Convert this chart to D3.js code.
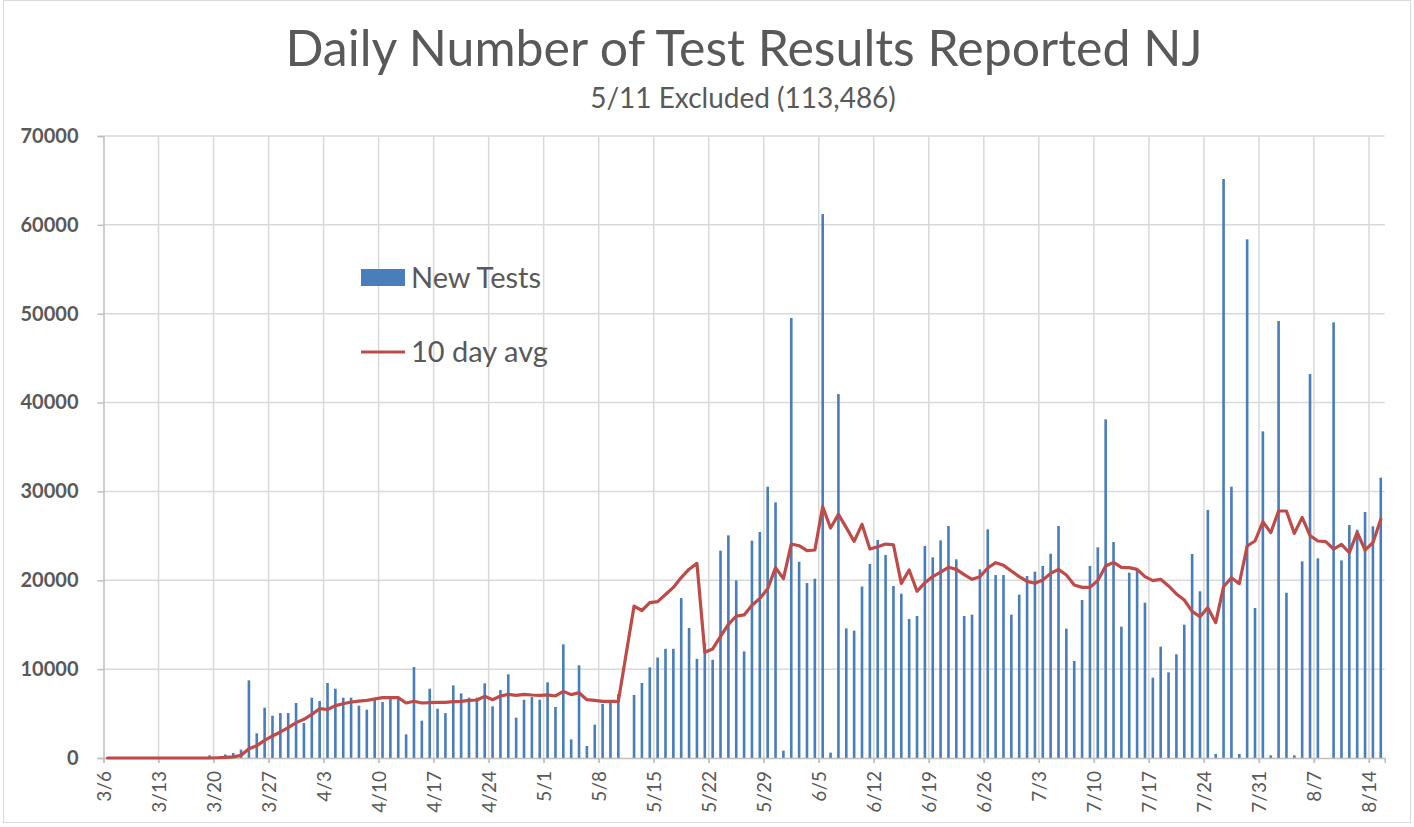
<!DOCTYPE html>
<html>
<head>
<meta charset="utf-8">
<script src="https://cdn.jsdelivr.net/npm/d3@7"></script>
<style>
  html, body { margin: 0; padding: 0; background: #fff; }
  svg { display: block; font-family: Lato, "Open Sans", sans-serif; }
</style>
</head>
<body>
<svg id="chart" width="1414" height="827"></svg>
<script>
// daily values from 3/6 to 8/15 (index 0 = 3/6); null = 5/11 excluded
const newTests = [
  0, 0, 0, 0, 0, 0, 0, 0, 0, 0, 0, 0, 0, 300, 0, 400, 560, 940, 8740, 2780,
  5660, 4760, 5060, 5060, 6190, 3940, 6790, 6410, 8440, 7800, 6790, 6790, 5890, 5440, 6790, 6300,
  6640, 6640, 2660, 10240, 4200, 7800, 5550, 5060, 8180, 7280, 6790, 6790, 8400, 5810, 7650, 9420,
  4540, 6560, 6860, 6560, 8520, 5740, 12790, 2100, 10430, 1350, 3750, 6080, 6380, 7200, null, 7090,
  8440, 10200, 11310, 12290, 12290, 18000, 14630, 11160, 12900, 11050, 23330, 25060, 19990, 12000, 24460, 25430,
  30530, 28770, 830, 49520, 22090, 19690, 20180, 61220, 600, 40960, 14590, 14330, 19300, 21830, 24530, 22840,
  19360, 18490, 15640, 15980, 23860, 22580, 24490, 26110, 22360, 15980, 16130, 21230, 25730, 20590, 20590, 16130,
  18380, 20480, 20970, 21610, 22990, 26110, 14550, 10920, 17780, 21610, 23710, 38110, 24310, 14780, 20860, 21160,
  17480, 9040, 12530, 9640, 11670, 15000, 22960, 18760, 27910, 450, 65160, 30530, 450, 58370, 16880, 36760,
  300, 49180, 18600, 300, 22130, 43210, 22470, 0, 49030, 22240, 26220, 25690, 27680, 26070, 31550
];

const tenDayAvg = [
  0, 0, 0, 0, 0, 0, 0, 0, 0, 0, 0, 0, 0, 0, 30, 70, 130, 300, 1050, 1390,
  1990, 2480, 2930, 3410, 3980, 4350, 4910, 5550, 5460, 5890, 6110, 6300, 6410, 6490, 6640, 6790,
  6790, 6790, 6190, 6380, 6190, 6230, 6260, 6260, 6340, 6380, 6490, 6530, 6940, 6560, 6980, 7160,
  7050, 7160, 7090, 7050, 7110, 6980, 7500, 7130, 7350, 6560, 6490, 6380, 6380, 6380, null, 17100,
  16600, 17480, 17600, 18400, 19200, 20300, 21250, 21900, 11900, 12270, 13680, 15040, 15970, 16100, 17200, 17950,
  19050, 21420, 20180, 24080, 23890, 23330, 23410, 28280, 25880, 27420, 25920, 24380, 26300, 23520, 23780, 24080,
  24000, 19650, 21160, 18760, 19730, 20410, 20930, 21460, 21230, 20630, 20110, 20410, 21380, 21980, 21680, 21040,
  20410, 19880, 19660, 20030, 20780, 21230, 20590, 19470, 19200, 19200, 19980, 21610, 22020, 21460, 21420, 21230,
  20410, 19960, 20110, 19360, 18460, 17780, 16500, 15900, 16920, 15230, 19280, 20290, 19620, 23860, 24420, 26590,
  25360, 27800, 27800, 25280, 27080, 25020, 24420, 24350, 23520, 24040, 23110, 25390, 23410, 24230, 26860
];

const tickLabels = ["3/6", "3/13", "3/20", "3/27", "4/3", "4/10", "4/17", "4/24", "5/1", "5/8",
  "5/15", "5/22", "5/29", "6/5", "6/12", "6/19", "6/26", "7/3", "7/10", "7/17", "7/24", "7/31", "8/7", "8/14"];
const yTicks = [0, 10000, 20000, 30000, 40000, 50000, 60000, 70000];
const seriesNames = ["New Tests", "10 day avg"];

(function () {
  const W = 1414, H = 827;
  const plotL = 103.5, plotR = 1384.7, plotT = 136, plotB = 758;
  const grey = "#595959", gridCol = "#d9d9d9", axisCol = "#bfbfbf";
  const barCol = "#4a7ebb", lineCol = "#be4b48";

  const svg = d3.select("#chart");

  // chart-area border
  svg.append("rect")
    .attr("x", 3.5).attr("y", 0.5).attr("width", W - 7).attr("height", H - 5)
    .attr("fill", "none").attr("stroke", gridCol);

  const n = newTests.length;
  const x = d3.scaleLinear().domain([0, n]).range([plotL, plotR]);
  const y = d3.scaleLinear().domain([0, 70000]).range([plotB, plotT]);
  const step = x(1) - x(0);

  // horizontal gridlines
  svg.append("g")
    .selectAll("line")
    .data(yTicks.slice(1))
    .join("line")
    .attr("x1", plotL).attr("x2", plotR)
    .attr("y1", (d) => y(d)).attr("y2", (d) => y(d))
    .attr("stroke", gridCol).attr("stroke-width", 1.5);

  // vertical gridlines every 7 days
  svg.append("g")
    .selectAll("line")
    .data(tickLabels.slice(1))
    .join("line")
    .attr("x1", (d, i) => x((i + 1) * 7)).attr("x2", (d, i) => x((i + 1) * 7))
    .attr("y1", plotT).attr("y2", plotB + 5)
    .attr("stroke", gridCol).attr("stroke-width", 1.5);

  // y axis
  const yAxis = svg.append("g")
    .attr("transform", `translate(${plotL},0)`)
    .call(d3.axisLeft(y).tickValues(yTicks).tickSize(6).tickPadding(19).tickFormat(d3.format("d")));
  yAxis.select(".domain").attr("stroke", axisCol).attr("stroke-width", 1.5);
  yAxis.selectAll(".tick line").attr("stroke", axisCol).attr("stroke-width", 1.5);
  yAxis.selectAll("text")
    .attr("fill", grey).attr("font-size", 20).attr("font-weight", "bold")
    .attr("font-family", "Lato, sans-serif");

  // bars
  const bw = step / 3;
  svg.append("g")
    .selectAll("rect")
    .data(newTests.map((v, i) => ({ i, v })).filter((d) => d.v))
    .join("rect")
    .attr("x", (d) => x(d.i + 0.5) - bw / 2)
    .attr("width", bw)
    .attr("y", (d) => y(d.v))
    .attr("height", (d) => plotB - y(d.v))
    .attr("fill", barCol);

  // x axis
  const xAxis = svg.append("g")
    .attr("transform", `translate(0,${plotB})`)
    .call(d3.axisBottom(x)
      .tickValues(tickLabels.map((t, i) => i * 7))
      .tickSize(5)
      .tickFormat((d, i) => tickLabels[i]));
  xAxis.select(".domain").attr("stroke", axisCol).attr("stroke-width", 1.5);
  xAxis.selectAll(".tick line").attr("stroke", axisCol).attr("stroke-width", 1.5);
  xAxis.selectAll("text")
    .attr("fill", grey).attr("font-size", 19)
    .attr("font-family", "Lato, sans-serif")
    .attr("text-anchor", "end")
    .attr("dy", "0.35em")
    .attr("transform", "translate(0,13) rotate(-90)")
    .attr("x", 0).attr("y", 0);

  // 10 day avg line (connects across the excluded day)
  const line = d3.line()
    .x((d) => x(d.i + 0.5))
    .y((d) => y(d.v));
  svg.append("path")
    .datum(tenDayAvg.map((v, i) => ({ i, v })).filter((d) => d.v != null))
    .attr("d", line)
    .attr("fill", "none")
    .attr("stroke", lineCol)
    .attr("stroke-width", 3.2)
    .attr("stroke-linejoin", "round")
    .attr("stroke-linecap", "round");

  // legend
  const lg = svg.append("g").attr("font-family", "Lato, sans-serif").attr("fill", grey);
  lg.append("rect").attr("x", 361).attr("y", 269).attr("width", 44).attr("height", 17).attr("fill", barCol);
  lg.append("text").attr("x", 411).attr("y", 288).attr("font-size", 29).text(seriesNames[0]);
  lg.append("line").attr("x1", 361).attr("x2", 405).attr("y1", 352).attr("y2", 352)
    .attr("stroke", lineCol).attr("stroke-width", 3);
  lg.append("text").attr("x", 411).attr("y", 362).attr("font-size", 29).text(seriesNames[1]);

  // titles
  svg.append("text")
    .attr("x", 744).attr("y", 66)
    .attr("text-anchor", "middle")
    .attr("font-size", 50).attr("fill", grey)
    .text("Daily Number of Test Results Reported NJ");
  svg.append("text")
    .attr("x", 743).attr("y", 108)
    .attr("text-anchor", "middle")
    .attr("font-size", 28).attr("fill", grey)
    .text("5/11 Excluded (113,486)");
})();
</script>
</body>
</html>
